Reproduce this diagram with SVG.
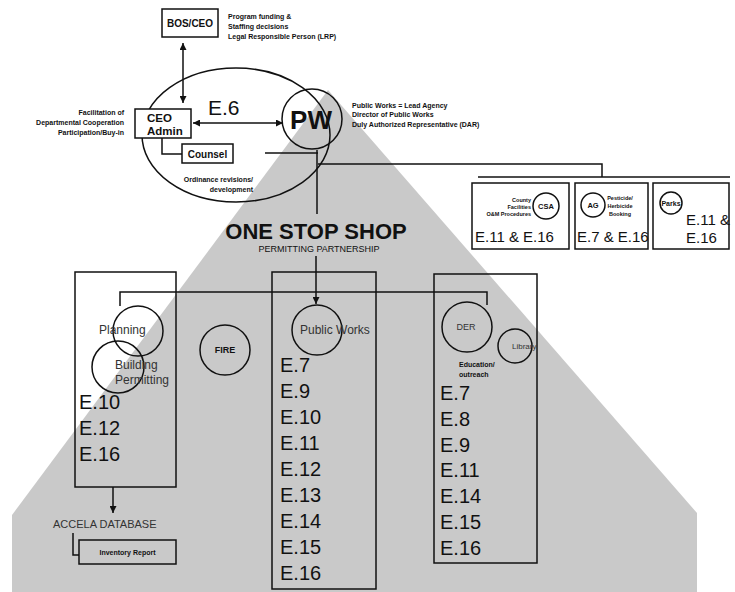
<svg xmlns="http://www.w3.org/2000/svg" width="735" height="592" viewBox="0 0 735 592">
<style>
text{font-family:"Liberation Sans",Arial,sans-serif;fill:#111}
.b{font-weight:bold}
.sm{font-size:7px;font-weight:bold}
.ln{fill:none;stroke:#111;stroke-width:1.5}
.box{fill:#fff;stroke:#111;stroke-width:1.5}
.obox{fill:none;stroke:#111;stroke-width:1.5}
.cir{fill:none;stroke:#111;stroke-width:1.5}
.e{font-size:20px}
.e15{font-size:15px}
.g{fill:#333}
</style>
<defs>
<marker id="ah" viewBox="0 0 10 10" refX="10" refY="5" markerWidth="7" markerHeight="7" orient="auto-start-reverse" markerUnits="userSpaceOnUse">
<path d="M0,0 L10,5 L0,10 z" fill="#111"/>
</marker>
</defs>
<rect width="735" height="592" fill="#fff"/>
<polygon id="background-house" points="328,90 697,513 697,592 12,592 12,515" fill="#c9c9c9"/>

<g id="connectors">
<line class="ln" x1="183" y1="43" x2="183" y2="103" marker-start="url(#ah)" marker-end="url(#ah)"/>
<line class="ln" x1="193" y1="123" x2="283" y2="123" marker-start="url(#ah)" marker-end="url(#ah)"/>
<polyline class="ln" points="162,138 162,154 182,154"/>
<line class="ln" x1="265" y1="153" x2="318" y2="153"/>
<line class="ln" x1="317" y1="150" x2="317" y2="214"/>
<polyline class="ln" points="318,164 602,164 602,177"/>
<line class="ln" x1="478" y1="177" x2="730" y2="177"/>
<line class="ln" x1="316" y1="256" x2="316" y2="304" marker-end="url(#ah)"/>
<polyline class="ln" points="120,306 120,292 487,292 487,305"/>
<line class="ln" x1="113" y1="487" x2="113" y2="513" marker-end="url(#ah)"/>
<polyline class="ln" points="73,533 73,555 79,555"/>
</g>

<g id="bos-ceo">
<rect class="box" x="162" y="9" width="56" height="28"/>
<text class="b" x="190" y="27" font-size="10" text-anchor="middle">BOS/CEO</text>
<text class="sm" x="228" y="19">Program funding &amp;</text>
<text class="sm" x="228" y="29">Staffing decisions</text>
<text class="sm" x="228" y="39">Legal Responsible Person (LRP)</text>
</g>

<g id="admin-ellipse">
<ellipse class="cir" cx="236" cy="135" rx="94" ry="67"/>
<text x="208" y="115" font-size="21">E.6</text>
</g>

<g id="ceo-admin">
<rect class="box" x="135" y="109" width="56" height="29"/>
<text class="b" x="147" y="122" font-size="11.5">CEO</text>
<text class="b" x="147" y="135" font-size="11.5">Admin</text>
<text class="sm" x="124" y="115" text-anchor="end" font-size="7.5">Facilitation of</text>
<text class="sm" x="124" y="125" text-anchor="end" font-size="7.5">Departmental Cooperation</text>
<text class="sm" x="124" y="135" text-anchor="end" font-size="7.5">Participation/Buy-in</text>
</g>

<g id="counsel">
<rect class="box" x="182" y="144" width="51" height="19"/>
<text class="b" x="207.5" y="158" font-size="10" text-anchor="middle">Counsel</text>
<text class="sm" x="253" y="182" text-anchor="end">Ordinance revisions/</text>
<text class="sm" x="253" y="192" text-anchor="end">development</text>
</g>

<g id="pw">
<circle class="cir" cx="312" cy="119" r="30"/>
<text class="b" x="311" y="129" font-size="26" text-anchor="middle">PW</text>
<text class="sm" x="352" y="108">Public Works = Lead Agency</text>
<text class="sm" x="352" y="117">Director of Public Works</text>
<text class="sm" x="352" y="127">Duly Authorized Representative (DAR)</text>
</g>

<g id="csa">
<rect class="box" x="472" y="183" width="97" height="66"/>
<circle class="cir" cx="546" cy="206" r="13"/>
<text class="b" x="546" y="209" font-size="7.5" text-anchor="middle">CSA</text>
<text class="b" x="531" y="202" font-size="5.5" text-anchor="end">County</text>
<text class="b" x="531" y="209" font-size="5.5" text-anchor="end">Facilities</text>
<text class="b" x="531" y="216" font-size="5.5" text-anchor="end">O&amp;M Procedures</text>
<text class="e15" x="475" y="242">E.11 &amp; E.16</text>
</g>

<g id="ag">
<rect class="box" x="575" y="183" width="73" height="66"/>
<circle class="cir" cx="593" cy="205" r="12"/>
<text class="b" x="593" y="208" font-size="7.5" text-anchor="middle">AG</text>
<text class="b" x="620" y="200" font-size="5.5" text-anchor="middle">Pesticide/</text>
<text class="b" x="620" y="208" font-size="5.5" text-anchor="middle">Herbicide</text>
<text class="b" x="620" y="216" font-size="5.5" text-anchor="middle">Booking</text>
<text class="e15" x="577" y="242">E.7 &amp; E.16</text>
</g>

<g id="parks">
<rect class="box" x="653" y="183" width="76" height="66"/>
<circle class="cir" cx="671" cy="203" r="11"/>
<text class="b" x="671" y="206" font-size="7" text-anchor="middle">Parks</text>
<text class="e15" x="686" y="225">E.11 &amp;</text>
<text class="e15" x="686" y="243">E.16</text>
</g>

<g id="one-stop-shop">
<text class="b" x="316" y="239" font-size="22" text-anchor="middle">ONE STOP SHOP</text>
<text x="319" y="252" font-size="9" text-anchor="middle">PERMITTING PARTNERSHIP</text>
</g>

<g id="planning-column">
<rect class="obox" x="75" y="272" width="101" height="215"/>
<circle class="cir" cx="138" cy="331" r="25"/>
<circle class="cir" cx="118" cy="367" r="26"/>
<text class="g" x="99" y="334" font-size="12">Planning</text>
<text class="g" x="115" y="369" font-size="12">Building</text>
<text class="g" x="115" y="384" font-size="12">Permitting</text>
<text class="e" x="79" y="409">E.10</text>
<text class="e" x="79" y="435">E.12</text>
<text class="e" x="79" y="461">E.16</text>
</g>

<g id="fire">
<circle class="cir" cx="225" cy="350" r="25"/>
<text class="b" x="225" y="353" font-size="9" text-anchor="middle">FIRE</text>
</g>

<g id="public-works-column">
<rect class="obox" x="272" y="272" width="104" height="317"/>
<circle class="cir" cx="317" cy="330" r="25"/>
<text class="g" x="300" y="334" font-size="12">Public Works</text>
<text class="e" x="280" y="372">E.7</text>
<text class="e" x="280" y="398">E.9</text>
<text class="e" x="280" y="424">E.10</text>
<text class="e" x="280" y="450">E.11</text>
<text class="e" x="280" y="476">E.12</text>
<text class="e" x="280" y="502">E.13</text>
<text class="e" x="280" y="528">E.14</text>
<text class="e" x="280" y="554">E.15</text>
<text class="e" x="280" y="580">E.16</text>
</g>

<g id="der-column">
<rect class="obox" x="434" y="274" width="103" height="289"/>
<circle class="cir" cx="467" cy="327" r="25"/>
<text x="466" y="330" font-size="9" text-anchor="middle" class="g">DER</text>
<text class="sm" x="459" y="367" font-size="7">Education/</text>
<text class="sm" x="459" y="377" font-size="7">outreach</text>
<text class="e" x="440" y="400">E.7</text>
<text class="e" x="440" y="426">E.8</text>
<text class="e" x="440" y="452">E.9</text>
<text class="e" x="440" y="477">E.11</text>
<text class="e" x="440" y="503">E.14</text>
<text class="e" x="440" y="529">E.15</text>
<text class="e" x="440" y="555">E.16</text>
</g>

<g id="library">
<circle class="cir" cx="515" cy="346" r="17"/>
<text class="g" x="512" y="349" font-size="8">Library</text>
</g>

<g id="accela">
<text x="53" y="528" font-size="11" class="g">ACCELA DATABASE</text>
</g>

<g id="inventory-report">
<rect class="obox" x="79" y="540" width="97" height="24"/>
<text class="sm" x="127.5" y="555" text-anchor="middle">Inventory Report</text>
</g>
</svg>
